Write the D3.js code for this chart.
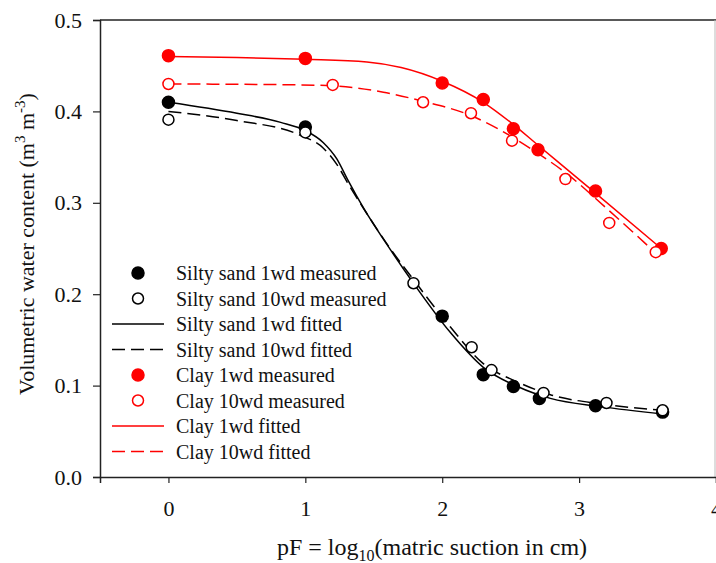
<!DOCTYPE html>
<html>
<head>
<meta charset="utf-8">
<script src="https://cdn.jsdelivr.net/npm/d3@7"></script>
<style>
  body { margin: 0; background: #fff; }
  text { font-family: "Liberation Serif", "Times New Roman", serif; fill: #111; }
</style>
</head>
<body>
<svg id="chart" width="716" height="563"></svg>
<script>
// measured values (pF, theta)
var sand1Measured = [[0, 0.410], [1, 0.383], [2, 0.176], [2.3, 0.112], [2.52, 0.099], [2.71, 0.086], [3.12, 0.078], [3.61, 0.071]];
var sand10Measured = [[0, 0.391], [1, 0.377], [1.79, 0.212], [2.215, 0.142], [2.36, 0.117], [2.74, 0.092], [3.2, 0.081], [3.61, 0.073]];
var clay1Measured = [[0, 0.461], [1, 0.458], [2, 0.431], [2.3, 0.413], [2.52, 0.381], [2.7, 0.358], [3.12, 0.313], [3.6, 0.250]];
var clay10Measured = [[0, 0.430], [1.2, 0.429], [1.86, 0.410], [2.21, 0.398], [2.51, 0.368], [2.9, 0.326], [3.22, 0.278], [3.56, 0.246]];

// fitted curves
var sand1Fitted = [[0, 0.410], [0.5, 0.398], [0.82, 0.388], [1.0, 0.379], [1.13, 0.366], [1.23, 0.348], [1.31, 0.325], [1.43, 0.293], [1.62, 0.249], [1.79, 0.212], [2.06, 0.158], [2.3, 0.120], [2.55, 0.099], [2.79, 0.086], [3.16, 0.077], [3.61, 0.069]];
var sand10Fitted = [[0, 0.400], [0.5, 0.390], [0.96, 0.374], [1.13, 0.360], [1.23, 0.342], [1.32, 0.319], [1.45, 0.288], [1.62, 0.250], [1.79, 0.216], [2.06, 0.164], [2.3, 0.124], [2.55, 0.104], [2.79, 0.090], [3.16, 0.080], [3.61, 0.073]];
var clay1Fitted = [[0, 0.460], [0.5, 0.459], [1.0, 0.457], [1.45, 0.454], [1.7, 0.448], [2.0, 0.433], [2.3, 0.410], [2.5, 0.388], [2.7, 0.363], [3.1, 0.313], [3.6, 0.250]];
var clay10Fitted = [[0, 0.430], [0.96, 0.429], [1.2, 0.428], [1.57, 0.421], [1.86, 0.411], [2.2, 0.396], [2.5, 0.373], [2.7, 0.354], [2.9, 0.333], [3.2, 0.294], [3.56, 0.245]];

var xTicks = [0, 1, 2, 3, 4];
var yTicks = [0.0, 0.1, 0.2, 0.3, 0.4, 0.5];

var legendLabels = ["Silty sand 1wd measured", "Silty sand 10wd measured", "Silty sand 1wd fitted", "Silty sand 10wd fitted",
                    "Clay 1wd measured", "Clay 10wd measured", "Clay 1wd fitted", "Clay 10wd fitted"];

var margin = { left: 100, top: 20, right: 0, bottom: 86 },
    width = 716, height = 563;

var svg = d3.select("#chart");

var x = d3.scaleLinear().domain([-0.5, 4]).range([margin.left, width - margin.right]);
var y = d3.scaleLinear().domain([0, 0.5]).range([height - margin.bottom, margin.top]);

var line = d3.line()
    .x(function (d) { return x(d[0]); })
    .y(function (d) { return y(d[1]); })
    .curve(d3.curveMonotoneX);

// frame
svg.append("line").attr("x1", x(-0.5)).attr("x2", width).attr("y1", y(0.5)).attr("y2", y(0.5))
    .attr("stroke", "#222").attr("stroke-width", 1.5);
svg.append("line").attr("x1", width - 1).attr("x2", width - 1).attr("y1", y(0.5)).attr("y2", y(0))
    .attr("stroke", "#bbb").attr("stroke-width", 1);

// axes
var xAxis = svg.append("g")
    .attr("transform", "translate(0," + y(0) + ")")
    .call(d3.axisBottom(x).tickValues(xTicks).tickFormat(d3.format("d")).tickSize(6).tickPadding(17));
var yAxis = svg.append("g")
    .attr("transform", "translate(" + x(-0.5) + ",0)")
    .call(d3.axisLeft(y).tickValues(yTicks).tickFormat(d3.format(".1f")).tickSize(7).tickPadding(11));

[xAxis, yAxis].forEach(function (g) {
    g.selectAll("path.domain").attr("stroke", "#222").attr("stroke-width", 1.5);
    g.selectAll(".tick line").attr("stroke", "#222").attr("stroke-width", 1.2);
    g.selectAll(".tick text").attr("font-size", 22).attr("fill", "#111");
});

// axis titles
var xTitle = svg.append("text")
    .attr("x", 432).attr("y", 555)
    .attr("text-anchor", "middle").attr("font-size", 24);
xTitle.append("tspan").text("pF = log");
xTitle.append("tspan").attr("font-size", 16).attr("dy", 6).text("10");
xTitle.append("tspan").attr("dy", -6).text("(matric suction in cm)");

var yTitle = svg.append("text")
    .attr("transform", "translate(34,244) rotate(-90)")
    .attr("text-anchor", "middle").attr("font-size", 22);
yTitle.append("tspan").text("Volumetric water content (m");
yTitle.append("tspan").attr("font-size", 15).attr("dy", -9).text("3");
yTitle.append("tspan").attr("dy", 9).text(" m");
yTitle.append("tspan").attr("font-size", 15).attr("dy", -9).text("-3");
yTitle.append("tspan").attr("dy", 9).text(")");

// fitted lines
var curves = [
    { data: sand1Fitted, color: "#000", dash: null },
    { data: sand10Fitted, color: "#000", dash: "13,6" },
    { data: clay1Fitted, color: "#ff0000", dash: null },
    { data: clay10Fitted, color: "#ff0000", dash: "13,6" }
];
svg.append("g").selectAll("path")
    .data(curves)
    .join("path")
    .attr("d", function (c) { return line(c.data); })
    .attr("fill", "none")
    .attr("stroke", function (c) { return c.color; })
    .attr("stroke-width", 1.5)
    .attr("stroke-dasharray", function (c) { return c.dash; });

// measured points
var points = [
    { data: sand1Measured, color: "#000", filled: true },
    { data: sand10Measured, color: "#000", filled: false },
    { data: clay1Measured, color: "#ff0000", filled: true },
    { data: clay10Measured, color: "#ff0000", filled: false }
];
points.forEach(function (p) {
    svg.append("g").selectAll("circle")
        .data(p.data)
        .join("circle")
        .attr("cx", function (d) { return x(d[0]); })
        .attr("cy", function (d) { return y(d[1]); })
        .attr("r", p.filled ? 6 : 5.5)
        .attr("fill", p.filled ? p.color : "#fff")
        .attr("stroke", p.color)
        .attr("stroke-width", 1.5);
});

// legend
var legendItems = [
    { type: "dot", color: "#000", filled: true },
    { type: "dot", color: "#000", filled: false },
    { type: "line", color: "#000", dash: null },
    { type: "line", color: "#000", dash: "13,6" },
    { type: "dot", color: "#ff0000", filled: true },
    { type: "dot", color: "#ff0000", filled: false },
    { type: "line", color: "#ff0000", dash: null },
    { type: "line", color: "#ff0000", dash: "13,6" }
];
var legend = svg.append("g").attr("transform", "translate(0,273)");
legendItems.forEach(function (item, i) {
    var row = legend.append("g").attr("transform", "translate(0," + (i * 25.5) + ")");
    if (item.type === "dot") {
        row.append("circle").attr("cx", 138).attr("cy", 0).attr("r", item.filled ? 6 : 5.5)
            .attr("fill", item.filled ? item.color : "#fff").attr("stroke", item.color).attr("stroke-width", 1.5);
    } else {
        row.append("line").attr("x1", 112).attr("x2", 164).attr("y1", 0).attr("y2", 0)
            .attr("stroke", item.color).attr("stroke-width", 1.5).attr("stroke-dasharray", item.dash);
    }
    row.append("text").attr("x", 176).attr("y", 7).attr("font-size", 20).text(legendLabels[i]);
});
</script>
</body>
</html>
